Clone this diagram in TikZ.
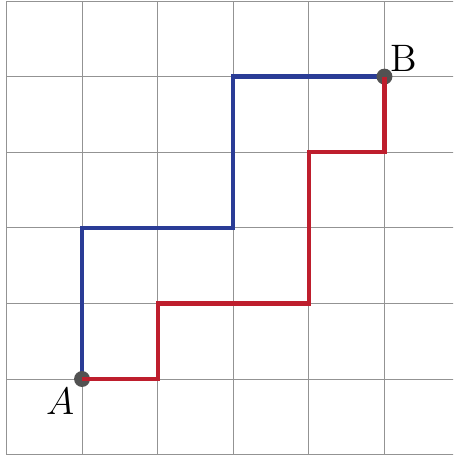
\documentclass[tikz,border=0pt]{standalone}
\begin{document}
\begin{tikzpicture}[x=1cm,y=1cm,
  gridline/.style={draw=gray!85, line width=0.35pt},
  bluepath/.style={draw={rgb,255:red,42;green,60;blue,150}, line width=1.6pt},
  redpath/.style={draw={rgb,255:red,190;green,30;blue,45}, line width=1.6pt},
  dot/.style={circle, fill=black!68, inner sep=0pt, minimum size=6pt}]
\useasboundingbox (-1.085,-1.0185) rectangle (4.907,5.013);
\begin{scope}
\clip (-1.085,-1.0185) rectangle (4.907,5.013);
\foreach \i in {-1,...,5} {
  \draw[gridline] (\i,-1) -- (\i,5);
  \draw[gridline] (-1,\i) -- (5,\i);
}
\end{scope}
\coordinate (A0) at (0,0);
\coordinate (B0) at (4,4);
\draw[bluepath] (A0) -- (0,2) -- (2,2) -- (2,4) -- (B0);
\node[dot] (A) at (A0) {};
\node[dot] (B) at (B0) {};
\draw[redpath] (A0) -- (1,0) -- (1,1) -- (3,1) -- (3,3) -- (4,3) -- (B0);
\node (la) at (-0.29,-0.3) {\Large $A$};
\node (lb) at (4.25,4.24) {\Large B};
\end{tikzpicture}
\end{document}
